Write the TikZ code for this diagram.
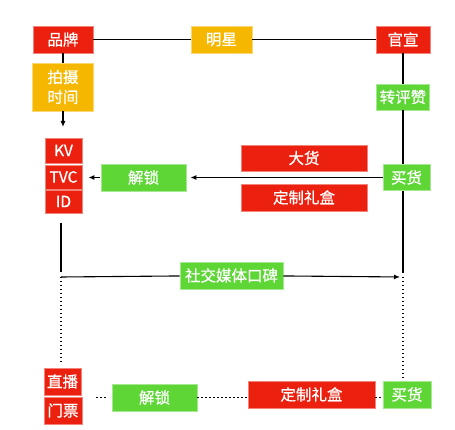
\documentclass[tikz,border=0pt]{standalone}
\usepackage{fontspec}
\setmainfont{Noto Sans CJK SC}
\newfontfamily\boxfont{Noto Sans CJK SC}[FakeBold=0.8]
\usetikzlibrary{arrows.meta}
\usetikzlibrary{positioning}
\definecolor{boxred}{HTML}{EB200E}
\definecolor{boxyellow}{HTML}{F5B700}
\definecolor{boxgreen}{HTML}{5ED636}

\begin{document}
\begin{tikzpicture}[x=1pt,y=-1pt]
\tikzset{
    box/.style={rectangle, inner sep=0pt, text=white, align=center,
        font=\boxfont\fontsize{15.5}{20}\selectfont, line width=0.8pt, minimum height=27pt},
    redbox/.style={box, fill=boxred, draw=boxred!55!white},
    yellowbox/.style={box, fill=boxyellow, draw=boxyellow!55!white},
    greenbox/.style={box, fill=boxgreen, draw=boxgreen!55!white},
    link/.style={line width=1.1pt, black},
    arr/.style={link, -{Latex[length=6pt,width=5pt]}},
    dotline/.style={line width=1.2pt, dash pattern=on 1.3pt off 2.7pt, black},
}
    \useasboundingbox (0,0) rectangle (455,430);

    % top row
    \node[redbox, minimum width=60pt] (pinpai) at (63,39.5) {品牌};
    \node[yellowbox, minimum width=61pt] (mingxing) at (221.5,39.5) {明星};
    \node[redbox, minimum width=54pt] (guanxuan) at (403,39.5) {官宣};
    \node[yellowbox, minimum width=61pt, minimum height=48pt] (paishe) at (63,87) {拍摄\\时间};
    \node[greenbox, minimum width=53pt, minimum height=26pt] (zhuanpingzan) at (403,97) {转评赞};
    \coordinate (paisheend) at (63,127);

    % middle
    \node[redbox, minimum width=37pt, minimum height=25pt] (kv) at (63.5,150.5) {KV};
    \node[redbox, minimum width=37pt, minimum height=24pt] (tvc) at (63.5,177) {TVC};
    \node[redbox, minimum width=37pt, minimum height=23pt] (id) at (63.5,201.5) {ID};
    \node[greenbox, minimum width=85pt] (jiesuo) at (143.5,177.5) {解锁};
    \node[redbox, minimum width=126pt, minimum height=26pt] (dahuo) at (304,158) {大货};
    \node[redbox, minimum width=126pt] (dingzhi) at (304,197.5) {定制礼盒};
    \node[greenbox, minimum width=47pt, minimum height=26pt] (maihuo) at (406.5,177.5) {买货};
    \node[greenbox, minimum width=103pt] (shejiao) at (231.5,275.5) {社交媒体口碑};
    \coordinate (lmid) at (61,277);
    \coordinate (rmid) at (403,277);

    % bottom row
    \node[redbox, minimum width=37pt] (zhibo) at (62.5,381.5) {直播};
    \node[redbox, minimum width=38pt] (menpiao) at (63,410.5) {门票};
    \node[greenbox, minimum width=85pt] (jiesuo2) at (154.5,397.5) {解锁};
    \node[redbox, minimum width=127pt] (dingzhi2) at (311.5,394.5) {定制礼盒};
    \node[greenbox, minimum width=48pt] (maihuo2) at (407,394.5) {买货};

    \draw[link] (pinpai) -- (mingxing);
    \draw[link] (mingxing) -- (guanxuan);
    \draw[link] (pinpai) -- (paishe);
    \draw[arr] (paishe) -- (paisheend);
    \draw[link] (guanxuan) -- (zhuanpingzan);
    \draw[link] (zhuanpingzan) -- (maihuo.north -| zhuanpingzan);
    \draw[link, shorten >=4pt] (maihuo.south -| rmid) -- (rmid);
    \draw[arr, shorten >=4pt] (maihuo) -- (jiesuo);
    \draw[arr, shorten <=1pt, shorten >=6pt] (jiesuo.west) -- (jiesuo.west -| tvc.east);

    \draw[link, shorten <=10pt, shorten >=5pt] (id.south -| lmid) -- (lmid);
    \draw[link] (lmid) -- (shejiao);
    \draw[arr, shorten >=3pt] (shejiao) -- (rmid);
    \draw[dotline] (lmid) -- ([yshift=3pt]zhibo.north -| lmid);
    \draw[dotline] (rmid) -- (maihuo2.north -| rmid);

    \draw[dotline, shorten <=14pt, shorten >=6pt] (menpiao.east |- jiesuo2) -- (jiesuo2.west);
    \draw[dotline] (jiesuo2.east) -- (jiesuo2.east -| dingzhi2.west);
    \draw[dotline] (dingzhi2.east |- jiesuo2) -- (maihuo2.west |- jiesuo2);
\end{tikzpicture}
\end{document}
